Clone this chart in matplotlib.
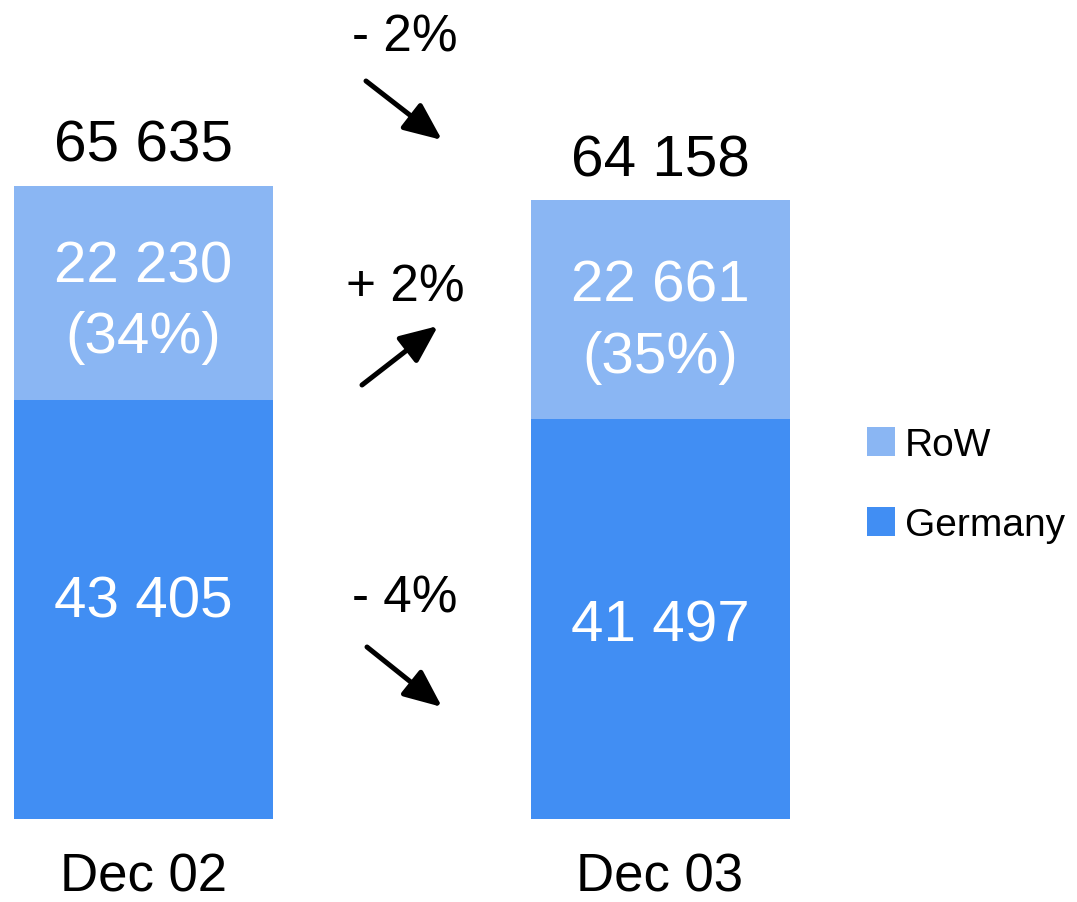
import matplotlib
matplotlib.use("Agg")
import matplotlib.pyplot as plt

# ---- data ----
categories = ["Dec 02", "Dec 03"]
germany = [43405, 41497]
row = [22230, 22661]
totals = [65635, 64158]
row_share = ["(34%)", "(35%)"]
value_labels_germany = ["43 405", "41 497"]
value_labels_row = ["22 230", "22 661"]
total_labels = ["65 635", "64 158"]
changes = ["- 2%", "+ 2%", "- 4%"]

COL_ROW = "#8AB6F3"
COL_GER = "#418EF3"

plt.rcParams["font.family"] = ["Liberation Sans", "DejaVu Sans"]

W, H = 1077, 903
fig = plt.figure(figsize=(W / 100, H / 100), dpi=100)
base_px = 820  # bar baseline, px from top
ax = fig.add_axes([0, (H - base_px) / H, 1, base_px / H])
ymax = totals[0] * base_px / 633.0
ax.set_ylim(0, ymax)
c0, c1 = 143.5, 660.0
step = c1 - c0
ax.set_xlim(-c0 / step, (W - c0) / step)
ax.axis("off")

def py(p):
    """pixel-from-top -> data y"""
    return (base_px - p) * ymax / base_px

def px(p):
    return (p - c0) / step

x = list(range(len(categories)))
bw = 259 / step
b_ger = ax.bar(x, germany, width=bw, color=COL_GER, label="Germany")
b_row = ax.bar(x, row, bottom=germany, width=bw, color=COL_ROW, label="RoW")

fs_num = 42
tot_base = [162, 177]
row_base = [283, 302]
share_base = [353, 373]
ger_base = [618, 641]
for i in x:
    ax.text(i, py(tot_base[i]), total_labels[i], ha="center", va="baseline",
            fontsize=fs_num, color="black")
    ax.text(i, py(row_base[i]), value_labels_row[i], ha="center", va="baseline",
            fontsize=fs_num, color="white")
    ax.text(i, py(share_base[i]), row_share[i], ha="center", va="baseline",
            fontsize=fs_num, color="white")
    ax.text(i, py(ger_base[i]), value_labels_germany[i], ha="center", va="baseline",
            fontsize=fs_num, color="white")
    ax.text(i, py(892), categories[i], ha="center", va="baseline",
            fontsize=38, color="black")

# change annotations
chg_x = 405
chg_base = [52, 302, 613]
arrows = [((366, 82), (442, 141)), ((362, 386), (438, 327)), ((367, 648), (442, 708))]
for lab, b, (s, t) in zip(changes, chg_base, arrows):
    ax.text(px(chg_x), py(b), lab, ha="center", va="baseline", fontsize=37, color="black")
    ax.annotate("", xy=(px(t[0]), py(t[1])), xytext=(px(s[0]), py(s[1])),
                arrowprops=dict(arrowstyle="-|>,head_length=1.15,head_width=0.5",
                                mutation_scale=20, lw=3.6, color="black",
                                shrinkA=0, shrinkB=0))

leg = ax.legend(handles=[b_row, b_ger], labels=["RoW", "Germany"],
                loc="upper left", bbox_to_anchor=(867 / W, 1 - 428 / H),
                bbox_transform=fig.transFigure, frameon=False, fontsize=28,
                handlelength=0.72, handleheight=0.75, handletextpad=0.25,
                labelspacing=1.13, borderpad=0, borderaxespad=0)

fig.savefig("out.png", dpi=100)
